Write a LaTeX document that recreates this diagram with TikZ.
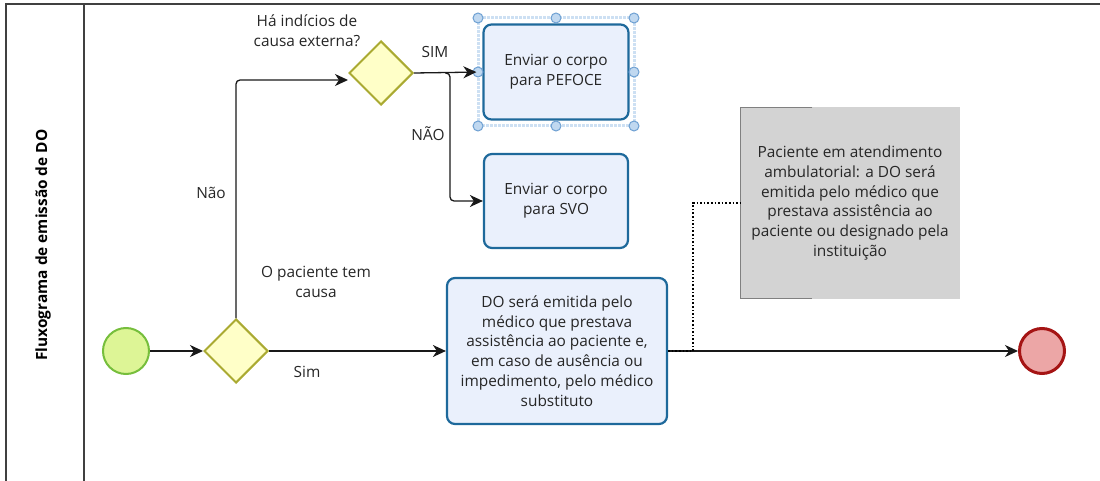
\documentclass[tikz,border=0pt]{standalone}
\usepackage{fontspec}
\setmainfont{Open Sans}
\usetikzlibrary{arrows.meta,shapes.geometric,calc}

\definecolor{taskfill}{RGB}{234,240,252}
\definecolor{taskline}{RGB}{30,105,155}
\definecolor{gatefill}{RGB}{255,255,200}
\definecolor{gateline}{RGB}{170,170,50}
\definecolor{startfill}{RGB}{221,245,150}
\definecolor{startline}{RGB}{118,190,60}
\definecolor{endfill}{RGB}{236,166,166}
\definecolor{endline}{RGB}{165,20,20}
\definecolor{notefill}{RGB}{211,211,211}
\definecolor{handlefill}{RGB}{192,216,240}
\definecolor{handleline}{RGB}{110,160,210}

\tikzset{
  txt/.style={text=black!85, font=\fontsize{15.4}{19.8}\selectfont, align=center},
  task/.style={txt, draw=taskline, fill=taskfill, line width=2.2pt, rounded corners=8pt, inner sep=2pt},
  gate/.style={diamond, draw=gateline, fill=gatefill, line width=2pt, minimum width=64, minimum height=64, inner sep=0pt},
  flow/.style={draw=black!90, line width=1.3pt, rounded corners=4pt, -{Stealth[length=13pt,width=12pt,inset=4pt]}},
  assoc/.style={draw=black, line width=1.6pt, dotted},
  handle/.style={draw=handleline, fill=handlefill, line width=1pt},
}

\begin{document}
\begin{tikzpicture}[x=1pt,y=-1pt]
		%%%%% START %%%%%
		\useasboundingbox (0,0) rectangle (1100,481);
		
		% pool and lane
		\draw[line width=1.4pt, color=black!75] (6,495) -- (6,4) -- (1110,4);
		\draw[line width=1.4pt, color=black!75] (84,4) -- (84,495);
		\node[rotate=90, font=\fontsize{15.4}{18}\selectfont\bfseries] (title) at (43,245) {Fluxograma de emissão de DO};
		
		% events and gateways
		\node[circle, draw=startline, fill=startfill, line width=2pt, minimum size=46, inner sep=0pt] (start) at (126,351) {};
		\node[gate] (gw1) at (236,351) {};
		\node[gate] (gw2) at (381,73) {};
		\node[circle, draw=endline, fill=endfill, line width=3pt, minimum size=45, inner sep=0pt] (stop) at (1042,351) {};
		
		% selection frame
		\draw[draw=handlefill!80, line width=3pt, densely dotted] (478,18) rectangle (634,126);
		
		% tasks
		\node[task, minimum width=145, minimum height=95] (pefoce) at (556,72) {Enviar o corpo\\para PEFOCE};
		\node[task, minimum width=144, minimum height=94] (svo) at (556,201) {Enviar o corpo\\para SVO};
		\node[task, minimum width=220, minimum height=146] (do) at (557,351) {DO será emitida pelo\\médico que prestava\\assistência ao paciente e,\\em caso de ausência ou\\impedimento, pelo médico\\substituto};
		
		\foreach \hx/\hy in {478/18, 556/18, 634/18, 478/72, 634/72, 478/126, 556/126, 634/126}
			\draw[handle] (\hx,\hy) circle (5);
		
		% annotation
		\node[txt, fill=notefill, minimum width=219, minimum height=191] (note) at (850,203) {Paciente em atendimento\\ambulatorial: a DO será\\emitida pelo médico que\\prestava assistência ao\\paciente ou designado pela\\instituição};
		\draw[line width=1.4pt, color=black!50] ([xshift=72pt]note.north west) -- (note.north west) -- (note.south west) -- ([xshift=72pt]note.south west);
		
		% labels
		\node[txt] (lbq1) at (316,282) {O paciente tem\\causa};
		\node[txt] (lbq2) at (307,31) {Há indícios de\\causa externa?};
		\node[txt] (lbsim) at (307,372) {Sim};
		\node[txt] (lbnao) at (211,193) {Não};
		\node[txt] (lbSIM) at (435,52) {SIM};
		\node[txt] (lbNAO) at (428,134) {NÃO};
		
		% flows
		\coordinate (fork) at (450,73);
		\draw[flow] (start) -- (gw1);
		\draw[flow] (gw1) -- (do);
		\draw[flow] (gw1.north) |- ([yshift=-7pt]gw2.west);
		\draw[flow, shorten >=6pt] (gw2.east) -- (pefoce.west);
		\draw[flow] ([xshift=-5pt]fork) -- (fork) |- (svo.west);
		\draw[flow] (do.east) -- (stop);
		\draw[assoc] (do.east) -| (693,203) -- (note.west);
		
		%%%%% END %%%%%
	\end{tikzpicture}
\end{document}
